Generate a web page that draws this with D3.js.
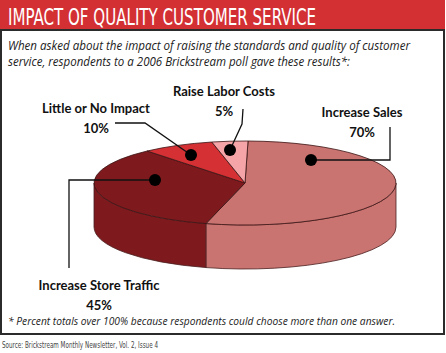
<!DOCTYPE html>
<html>
<head>
<meta charset="utf-8">
<script src="https://cdn.jsdelivr.net/npm/d3@7.9.0/dist/d3.min.js"></script>
<style>
  body { margin: 0; background: #fff; }
  svg { display: block; }
</style>
</head>
<body>
<svg width="446" height="353"></svg>
<script>
const categories = ['Increase Sales', 'Increase Store Traffic', 'Little or No Impact', 'Raise Labor Costs'];
const percents = [70, 45, 10, 5];
const percentLabels = ['70%', '45%', '10%', '5%'];
const sliceColors = ['#c97471', '#7e1a1e', '#d53034', '#f5a4a7'];

const title = 'IMPACT OF QUALITY CUSTOMER SERVICE';
const subtitle = [
  'When asked about the impact of raising the standards and quality of customer',
  'service, respondents to a 2006 Brickstream poll gave these results*:'
];
const footnote = '* Percent totals over 100% because respondents could choose more than one answer.';
const source = 'Source: Brickstream Monthly Newsletter, Vol. 2, Issue 4';

// label placement (layout only)
const callouts = {
  'Increase Sales': { x: 362, y: 117, pts: [[311, 160], [390, 160], [390, 127]] },
  'Increase Store Traffic': { x: 99, y: 290, pts: [[155, 180], [69, 180], [69, 268]] },
  'Little or No Impact': { x: 96, y: 113, pts: [[191, 155], [145, 123], [115, 123]] },
  'Raise Labor Costs': { x: 224, y: 96, pts: [[230, 150], [242, 124], [243, 109]] }
};

const svg = d3.select('svg');

// frame + title bar
svg.append('rect').attr('x', 1).attr('y', 1).attr('width', 443).attr('height', 333)
  .attr('fill', '#fff').attr('stroke', '#2b2b2b').attr('stroke-width', 2);
svg.append('rect').attr('x', 0).attr('y', 0).attr('width', 445).attr('height', 30)
  .attr('fill', '#d33034');
svg.append('line').attr('x1', 0).attr('x2', 445).attr('y1', 30).attr('y2', 30)
  .attr('stroke', '#2b2b2b').attr('stroke-width', 2);

svg.append('text').attr('x', 8).attr('y', 25)
  .attr('fill', '#fff')
  .attr('font-family', '"Liberation Sans Narrow", "DejaVu Sans Condensed", sans-serif')
  .attr('font-size', 23)
  .attr('textLength', 308).attr('lengthAdjust', 'spacingAndGlyphs')
  .text(title);

svg.selectAll('text.sub')
  .data(subtitle)
  .join('text')
  .attr('class', 'sub')
  .attr('x', 8)
  .attr('y', (d, i) => 50 + i * 16)
  .attr('font-family', '"Open Sans", sans-serif')
  .attr('font-style', 'italic')
  .attr('font-size', 11.8)
  .attr('fill', '#222')
  .attr('textLength', (d, i) => i === 0 ? 402 : 342)
  .attr('lengthAdjust', 'spacingAndGlyphs')
  .text(d => d);

// 3D pie
const cx = 245, cy = 183, rx = 151, ry = 42, depth = 44;

const pie = d3.pie().sort(null).startAngle(0.02).endAngle(0.02 + 2 * Math.PI).value(d => d);
const arcs = pie(percents);

const px = a => cx + rx * Math.sin(a);
const py = a => cy - ry * Math.cos(a);

function sidePath(d) {
  const s = Math.max(d.startAngle, Math.PI / 2);
  const e = Math.min(d.endAngle, 3 * Math.PI / 2);
  if (e <= s) return null;
  const large = (e - s) > Math.PI ? 1 : 0;
  return `M${px(s)},${py(s)}` +
    `A${rx},${ry} 0 ${large} 1 ${px(e)},${py(e)}` +
    `L${px(e)},${py(e) + depth}` +
    `A${rx},${ry} 0 ${large} 0 ${px(s)},${py(s) + depth}Z`;
}

const pieG = svg.append('g');

pieG.selectAll('path.side')
  .data(arcs.filter(d => sidePath(d)))
  .join('path')
  .attr('class', 'side')
  .attr('d', sidePath)
  .attr('fill', d => sliceColors[d.index])
  .attr('stroke', '#4a2020')
  .attr('stroke-width', 0.8);

const arc = d3.arc().innerRadius(0).outerRadius(rx);
pieG.append('g')
  .attr('transform', `translate(${cx},${cy}) scale(1,${ry / rx})`)
  .selectAll('path')
  .data(arcs)
  .join('path')
  .attr('d', arc)
  .attr('fill', d => sliceColors[d.index])
  .attr('stroke', '#3a1414')
  .attr('stroke-width', 0.8)
  .attr('vector-effect', 'non-scaling-stroke');

// callouts
const line = d3.line();
categories.forEach((c, i) => {
  const co = callouts[c];
  svg.append('path')
    .attr('d', line(co.pts))
    .attr('fill', 'none')
    .attr('stroke', '#111')
    .attr('stroke-width', 1.3);
  svg.append('circle')
    .attr('cx', co.pts[0][0]).attr('cy', co.pts[0][1]).attr('r', 6)
    .attr('fill', '#000');
  const t = svg.append('text')
    .attr('text-anchor', 'middle')
    .attr('font-family', 'Lato, sans-serif')
    .attr('font-weight', 'bold')
    .attr('font-size', 13)
    .attr('fill', '#111');
  t.append('tspan').attr('x', co.x).attr('y', co.y).text(c);
  t.append('tspan').attr('x', co.x).attr('y', co.y + 20).text(percentLabels[i]);
});

svg.append('text').attr('x', 8).attr('y', 325)
  .attr('font-family', '"Open Sans", sans-serif')
  .attr('font-style', 'italic')
  .attr('font-size', 10.4)
  .attr('fill', '#222')
  .attr('textLength', 387).attr('lengthAdjust', 'spacingAndGlyphs')
  .text(footnote);

svg.append('text').attr('x', 2).attr('y', 348)
  .attr('font-family', '"Liberation Sans Narrow", "DejaVu Sans Condensed", sans-serif')
  .attr('font-size', 9)
  .attr('fill', '#444')
  .attr('textLength', 156).attr('lengthAdjust', 'spacingAndGlyphs')
  .text(source);
</script>
</body>
</html>
